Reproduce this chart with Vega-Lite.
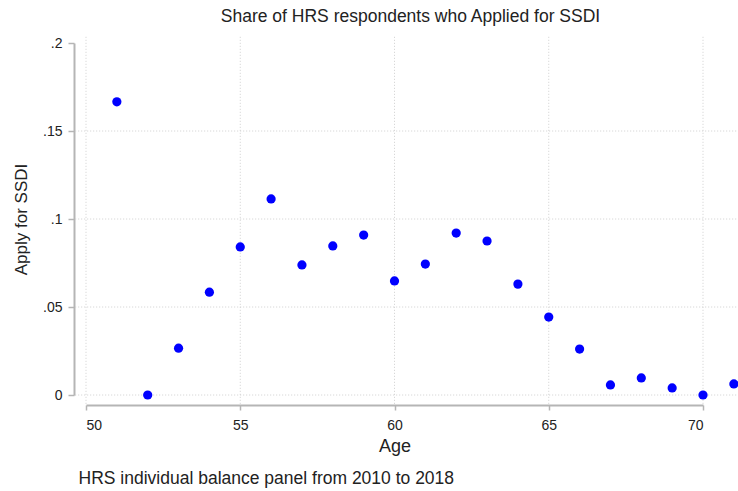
{
  "$schema": "https://vega.github.io/schema/vega-lite/v6.json",
  "padding": {"left": 12, "top": 8, "right": 0, "bottom": 0},
  "background": "white",
  "config": {
    "font": "Liberation Sans",
    "view": {"stroke": null},
    "title": {"font": "Liberation Sans", "fontWeight": "normal", "color": "#222"}
  },
  "title": {
    "text": "HRS individual balance panel from 2010 to 2018",
    "orient": "bottom",
    "anchor": "start",
    "fontSize": 17.5,
    "offset": 15,
    "dx": 66
  },
  "vconcat": [
    {
      "title": {
        "text": "Share of HRS respondents who Applied for SSDI",
        "anchor": "middle",
        "fontSize": 17.5,
        "offset": 9,
        "dx": 16
      },
      "width": 617,
      "height": 352,
      "layer": [
        {
          "data": {"values": [{"v": 0}, {"v": 0.05}, {"v": 0.1}, {"v": 0.15}]},
          "mark": {"type": "rule", "color": "#cfcfcf", "strokeDash": [1, 2], "strokeWidth": 1, "clip": false},
          "encoding": {
            "y": {"field": "v", "type": "quantitative"},
            "x": {"datum": 49.65},
            "x2": {"datum": 72}
          }
        },
        {
          "data": {"values": [{"v": 50}, {"v": 55}, {"v": 60}, {"v": 65}, {"v": 70}]},
          "mark": {"type": "rule", "color": "#cfcfcf", "strokeDash": [1, 2], "strokeWidth": 1, "clip": false},
          "encoding": {
            "x": {"field": "v", "type": "quantitative"},
            "y": {"datum": -0.005},
            "y2": {"datum": 0.2045}
          }
        },
        {
          "data": {
            "values": [
              {"age": 51, "share": 0.1666},
              {"age": 52, "share": 0.0},
              {"age": 53, "share": 0.0266},
              {"age": 54, "share": 0.0584},
              {"age": 55, "share": 0.0841},
              {"age": 56, "share": 0.1114},
              {"age": 57, "share": 0.0739},
              {"age": 58, "share": 0.0847},
              {"age": 59, "share": 0.0909},
              {"age": 60, "share": 0.0648},
              {"age": 61, "share": 0.0744},
              {"age": 62, "share": 0.0920},
              {"age": 63, "share": 0.0875},
              {"age": 64, "share": 0.0630},
              {"age": 65, "share": 0.0443},
              {"age": 66, "share": 0.0261},
              {"age": 67, "share": 0.0057},
              {"age": 68, "share": 0.0097},
              {"age": 69, "share": 0.0040},
              {"age": 70, "share": 0.0},
              {"age": 71, "share": 0.0063}
            ]
          },
          "mark": {"type": "point", "filled": true, "shape": "circle", "size": 85, "color": "#0000FF", "opacity": 1, "clip": false},
          "encoding": {
            "x": {"field": "age", "type": "quantitative"},
            "y": {"field": "share", "type": "quantitative"}
          }
        }
      ],
      "encoding": {
        "x": {
          "type": "quantitative",
          "scale": {"domain": [50, 70], "nice": false, "zero": false},
          "axis": {
            "title": "Age",
            "values": [50, 55, 60, 65, 70],
            "format": "d",
            "grid": false,
            "offset": 10,
            "labelFontSize": 14,
            "labelColor": "#222",
            "labelPadding": 8,
            "titleFontSize": 18,
            "titleFontWeight": "normal",
            "titleColor": "#222",
            "titlePadding": 5,
            "domainColor": "#b5b5b5",
            "domainWidth": 2,
            "tickColor": "#b5b5b5",
            "tickWidth": 1.5,
            "tickSize": 5
          }
        },
        "y": {
          "type": "quantitative",
          "scale": {"domain": [0, 0.2], "nice": false},
          "axis": {
            "title": "Apply for SSDI",
            "values": [0, 0.05, 0.1, 0.15, 0.2],
            "labelExpr": "datum.value == 0 ? '0' : replace(format(datum.value, '.2~f'), '0.', '.')",
            "grid": false,
            "offset": 12,
            "labelFontSize": 14,
            "labelColor": "#222",
            "labelPadding": 6,
            "titleFontSize": 17,
            "titleFontWeight": "normal",
            "titleColor": "#222",
            "titlePadding": 12,
            "domainColor": "#b5b5b5",
            "domainWidth": 2,
            "tickColor": "#b5b5b5",
            "tickWidth": 1.5,
            "tickSize": 6
          }
        }
      }
    }
  ]
}
